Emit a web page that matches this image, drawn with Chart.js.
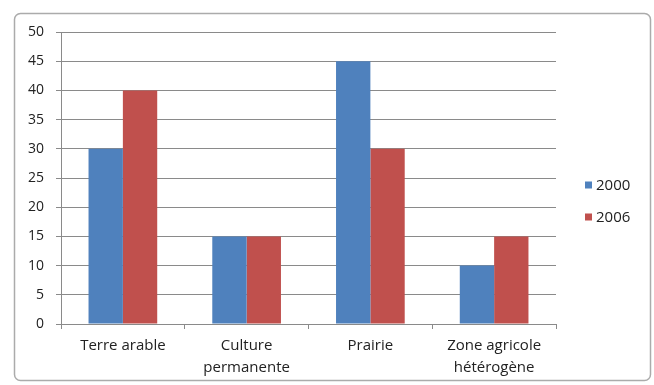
<!DOCTYPE html>
<html>
<head>
<meta charset="utf-8">
<script src="https://cdn.jsdelivr.net/npm/chart.js@4.4.1/dist/chart.umd.min.js"></script>
<style>
  html, body { margin: 0; padding: 0; background: #ffffff; }
  #c { display: block; }
</style>
</head>
<body>
<canvas id="c" width="654" height="385"></canvas>
<script>
// Occupation des sols agricoles, 2000 vs 2006
const categories = ['Terre arable', ['Culture', 'permanente'], 'Prairie', ['Zone agricole', 'hétérogène']];
const seriesNames = ['2000', '2006'];
const values2000 = [30, 15, 45, 10];
const values2006 = [40, 15, 30, 15];
const yTicks = { min: 0, max: 50, step: 5 };

const BLUE = '#4F81BD';
const RED = '#C0504D';
const GRID = '#8a8a8a';
const TEXT = '#222222';
const FONT = '"Open Sans", "DejaVu Sans", sans-serif';

// White card with a rounded grey frame behind the chart
const framePlugin = {
  id: 'frame',
  beforeDraw(chart) {
    const ctx = chart.ctx;
    ctx.save();
    ctx.fillStyle = '#ffffff';
    ctx.fillRect(0, 0, chart.width, chart.height);
    ctx.beginPath();
    ctx.roundRect(14.5, 13.5, 636, 367, 6);
    ctx.lineWidth = 1.5;
    ctx.strokeStyle = '#ababab';
    ctx.stroke();
    ctx.restore();
  }
};

// Legend on the right: small square swatch followed by the series name
const sideLegend = {
  id: 'sideLegend',
  afterDraw(chart) {
    const ctx = chart.ctx;
    const x = chart.chartArea.right + 29;
    ctx.save();
    ctx.font = '15px ' + FONT;
    ctx.textBaseline = 'middle';
    ctx.textAlign = 'left';
    chart.data.datasets.forEach((ds, i) => {
      const y = 185 + i * 32;
      ctx.fillStyle = ds.backgroundColor;
      ctx.fillRect(x, y - 3.5, 7, 7);
      ctx.fillStyle = TEXT;
      ctx.fillText(ds.label, x + 11, y + 0.5);
    });
    ctx.restore();
  }
};

new Chart(document.getElementById('c'), {
  type: 'bar',
  data: {
    labels: categories,
    datasets: [
      { label: seriesNames[0], data: values2000, backgroundColor: BLUE },
      { label: seriesNames[1], data: values2006, backgroundColor: RED }
    ]
  },
  options: {
    responsive: false,
    animation: false,
    devicePixelRatio: 1,
    datasets: { bar: { barPercentage: 1, categoryPercentage: 0.555 } },
    layout: { padding: { left: 0, right: 98, top: 32, bottom: 6 } },
    plugins: { legend: { display: false }, tooltip: { enabled: false } },
    scales: {
      x: {
        offset: true,
        grid: { offset: true, drawOnChartArea: false, drawTicks: true, tickLength: 5, color: GRID },
        border: { color: GRID },
        ticks: { color: TEXT, padding: 6, maxRotation: 0, autoSkip: false,
                 font: { family: FONT, size: 15, lineHeight: 1.47 } },
        afterFit(s) { s.height = 55; }
      },
      y: {
        min: yTicks.min,
        max: yTicks.max,
        grid: { color: GRID, tickLength: 5 },
        border: { color: GRID },
        ticks: { stepSize: yTicks.step, color: TEXT, padding: 12,
                 font: { family: FONT, size: 14 } },
        afterFit(s) { s.width = 61; }
      }
    }
  },
  plugins: [framePlugin, sideLegend]
});
</script>
</body>
</html>
